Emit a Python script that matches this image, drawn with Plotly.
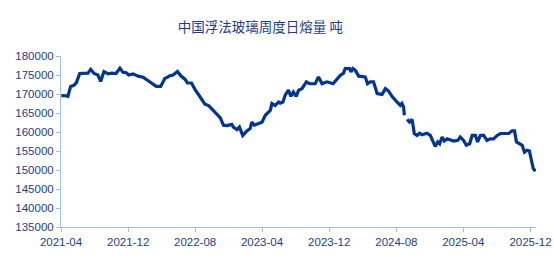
import plotly.graph_objects as go

title_text = "中国浮法玻璃周度日熔量 吨"

dates = [
    "2021-04-02", "2021-04-12", "2021-04-26", "2021-05-06", "2021-05-18", "2021-05-27",
    "2021-06-08", "2021-06-24", "2021-07-08", "2021-07-18", "2021-07-30", "2021-08-13",
    "2021-08-23", "2021-09-04", "2021-09-19", "2021-10-03", "2021-10-18", "2021-11-01",
    "2021-11-12", "2021-11-24", "2021-12-03", "2021-12-19", "2022-01-06", "2022-01-24",
    "2022-02-11", "2022-03-01", "2022-03-13", "2022-03-29", "2022-04-13", "2022-04-22",
    "2022-05-01", "2022-05-13", "2022-05-29", "2022-06-10", "2022-06-25", "2022-07-04",
    "2022-07-19", "2022-07-31", "2022-08-12", "2022-08-24", "2022-09-05", "2022-09-20",
    "2022-10-06", "2022-10-24", "2022-10-31", "2022-11-12", "2022-11-25", "2022-12-12",
    "2022-12-18", "2022-12-31", "2023-01-09", "2023-01-21", "2023-02-05", "2023-02-17",
    "2023-02-23", "2023-03-04", "2023-03-19", "2023-04-01", "2023-04-13", "2023-05-01",
    "2023-05-07", "2023-05-19", "2023-05-31", "2023-06-06", "2023-06-16", "2023-06-24",
    "2023-07-06", "2023-07-15", "2023-07-24", "2023-08-03", "2023-08-12", "2023-08-24",
    "2023-09-09", "2023-09-21", "2023-10-11", "2023-10-23", "2023-11-05", "2023-11-23",
    "2023-12-15", "2023-12-29", "2024-01-10", "2024-01-22", "2024-01-28", "2024-02-13",
    "2024-02-18", "2024-02-25", "2024-03-05", "2024-03-17", "2024-04-10", "2024-04-18",
    "2024-04-28", "2024-05-10", "2024-05-23", "2024-06-10", "2024-06-22", "2024-07-03",
    "2024-07-16", "2024-08-03", "2024-08-15", "2024-08-21", "2024-08-27", "2024-08-30",
    "2024-09-03",
    "2024-09-09", "2024-09-18", "2024-09-27", "2024-09-30", "2024-10-05", "2024-10-15",
    "2024-10-24", "2024-11-02", "2024-11-20", "2024-12-02", "2024-12-12", "2024-12-20",
    "2024-12-29", "2025-01-05", "2025-01-14", "2025-01-22", "2025-02-01", "2025-02-13",
    "2025-02-25", "2025-03-12", "2025-03-21", "2025-04-02", "2025-04-12", "2025-04-24",
    "2025-05-03", "2025-05-15", "2025-05-23", "2025-06-02", "2025-06-14", "2025-06-26",
    "2025-07-08", "2025-07-20", "2025-08-02", "2025-08-14", "2025-09-13", "2025-09-25",
    "2025-10-04", "2025-10-11", "2025-10-23", "2025-11-01", "2025-11-09", "2025-11-19",
    "2025-11-27", "2025-12-03", "2025-12-11", "2025-12-19",
]

melt_volume = [
    169500, 169600, 169400, 172000, 172300, 173000,
    175400, 175400, 175500, 176500, 175400, 175000,
    173300, 175900, 175300, 175500, 175400, 176800,
    175700, 175600, 175000, 175300, 174700, 174400,
    173500, 172600, 172000, 172000, 174100, 174400,
    174800, 175000, 175900, 174800, 173900, 172900,
    172900, 171300, 170000, 168700, 167400, 166900,
    165600, 164300, 163800, 161800, 161700, 162000,
    161300, 160600, 161300, 159100, 160300, 160900,
    162600, 161800, 162200, 162600, 164400, 165700,
    167500, 167000, 167900, 167600, 167900, 169700,
    171000, 169400, 170500, 169400, 171000, 171400,
    173200, 172700, 172700, 174500, 172700, 173200,
    172700, 173800, 174900, 175500, 176700, 176700,
    175800, 176700, 176200, 174700, 174500, 172700,
    173200, 173200, 170100, 169900, 171400, 170800,
    169400, 167900, 167000, 167500, 166600, 164400,
    None,
    163300, 162600, 163300, 162200, 159600, 159100,
    159700, 159300, 159700, 159100, 157400, 156200,
    157400, 156900, 158700, 157600, 158200, 158000,
    157600, 157800, 158700, 157800, 156500, 156900,
    159100, 159100, 157400, 159100, 159100, 157800,
    158200, 158200, 159100, 159600, 159600, 160300,
    160300, 157400, 156900, 156500, 154700, 155200,
    155000, 152600, 150400, 149700,
]

x_ticks = ["2021-04-01", "2021-12-01", "2022-08-01", "2023-04-01",
           "2023-12-01", "2024-08-01", "2025-04-01", "2025-12-01"]
x_tick_labels = ["2021-04", "2021-12", "2022-08", "2023-04",
                 "2023-12", "2024-08", "2025-04", "2025-12"]
y_ticks = list(range(135000, 180001, 5000))

axis_color = "#9dc3e6"
text_color = "#1f3c88"
line_color = "#003594"

fig = go.Figure()
fig.add_trace(go.Scatter(
    x=dates, y=melt_volume, mode="lines",
    line=dict(color=line_color, width=3.2),
    connectgaps=False, showlegend=False, hoverinfo="skip",
))

fig.update_layout(
    width=554, height=258,
    margin=dict(l=61, r=18, t=56, b=31),
    paper_bgcolor="white", plot_bgcolor="white",
    font=dict(family="Liberation Sans, Arial, sans-serif", color=text_color, size=11.5),
    title=dict(
        text=title_text, x=0.47, xanchor="center", y=0.895, yanchor="middle",
        font=dict(family="Noto Sans CJK SC, sans-serif", size=13.5, color=text_color),
        automargin=False,
    ),
)
fig.update_xaxes(
    type="date", range=["2021-04-01", "2025-12-21"],
    tickvals=x_ticks, ticktext=x_tick_labels,
    showgrid=False, zeroline=False, automargin=False,
    showline=True, linecolor=axis_color, linewidth=1,
    ticks="outside", ticklen=4, tickcolor=axis_color,
    tickfont=dict(size=11.5, color=text_color),
)
fig.update_yaxes(
    range=[135000, 180000], tickvals=y_ticks,
    tickformat="d", automargin=False,
    showgrid=False, zeroline=False,
    showline=True, linecolor=axis_color, linewidth=1,
    ticks="outside", ticklen=4, tickcolor=axis_color,
    tickfont=dict(size=11.5, color=text_color),
)

fig.write_html("out.html")
